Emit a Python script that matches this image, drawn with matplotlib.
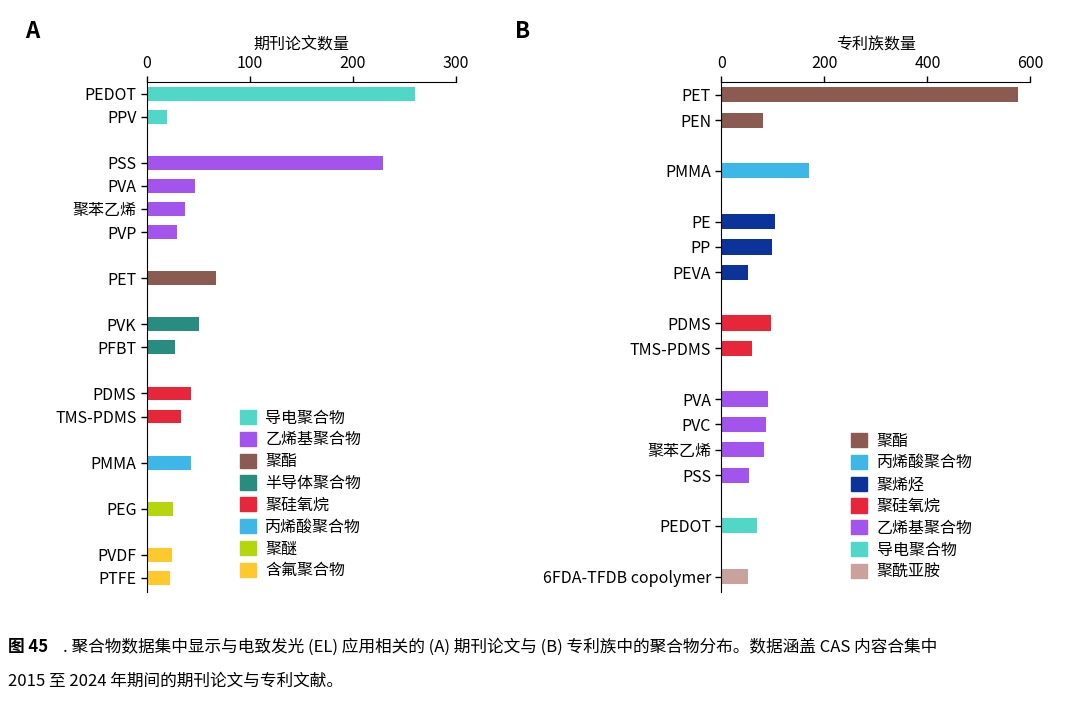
import matplotlib.pyplot as plt
from matplotlib.patches import Patch

plt.rcParams['font.family'] = ['Noto Sans CJK SC', 'DejaVu Sans']

# Panel A: journal articles
a_labels = ['PEDOT', 'PPV', 'PSS', 'PVA', '聚苯乙烯', 'PVP', 'PET', 'PVK', 'PFBT',
            'PDMS', 'TMS-PDMS', 'PMMA', 'PEG', 'PVDF', 'PTFE']
a_values = [260, 20, 229, 47, 37, 29, 67, 51, 27, 43, 33, 43, 25, 24, 22]
a_slots = [0, 1, 3, 4, 5, 6, 8, 10, 11, 13, 14, 16, 18, 20, 21]
a_groups = ['导电聚合物', '导电聚合物', '乙烯基聚合物', '乙烯基聚合物', '乙烯基聚合物', '乙烯基聚合物',
            '聚酯', '半导体聚合物', '半导体聚合物', '聚硅氧烷', '聚硅氧烷', '丙烯酸聚合物',
            '聚醚', '含氟聚合物', '含氟聚合物']
a_legend = ['导电聚合物', '乙烯基聚合物', '聚酯', '半导体聚合物', '聚硅氧烷', '丙烯酸聚合物', '聚醚', '含氟聚合物']

# Panel B: patent families
b_labels = ['PET', 'PEN', 'PMMA', 'PE', 'PP', 'PEVA', 'PDMS', 'TMS-PDMS', 'PVA', 'PVC',
            '聚苯乙烯', 'PSS', 'PEDOT', '6FDA-TFDB copolymer']
b_values = [577, 80, 171, 105, 99, 52, 97, 60, 91, 87, 83, 54, 70, 52]
b_slots = [0, 1, 3, 5, 6, 7, 9, 10, 12, 13, 14, 15, 17, 19]
b_groups = ['聚酯', '聚酯', '丙烯酸聚合物', '聚烯烃', '聚烯烃', '聚烯烃', '聚硅氧烷', '聚硅氧烷',
            '乙烯基聚合物', '乙烯基聚合物', '乙烯基聚合物', '乙烯基聚合物', '导电聚合物', '聚酰亚胺']
b_legend = ['聚酯', '丙烯酸聚合物', '聚烯烃', '聚硅氧烷', '乙烯基聚合物', '导电聚合物', '聚酰亚胺']

colors = {'导电聚合物': '#4fd8c8', '乙烯基聚合物': '#a254ec', '聚酯': '#8b5a50',
          '半导体聚合物': '#288c80', '聚硅氧烷': '#e8263a', '丙烯酸聚合物': '#3db6e8',
          '聚醚': '#b5d50c', '含氟聚合物': '#ffc82c', '聚烯烃': '#0b3399', '聚酰亚胺': '#c9a29c'}

fig = plt.figure(figsize=(10.8, 7.02), dpi=100)


def panel(rect, labels, values, slots, groups, legend, xmax, ticks, title, leg_anchor):
    ax = fig.add_axes(rect)
    ax.barh(slots, values, height=0.6, color=[colors[g] for g in groups])
    ax.set_yticks(slots)
    ax.set_yticklabels(labels, fontsize=11.5)
    ax.set_ylim(max(slots) + 0.6, -0.5)
    ax.set_xlim(0, xmax)
    ax.set_xticks(ticks)
    ax.xaxis.tick_top()
    ax.xaxis.set_label_position('top')
    ax.set_xlabel(title, fontsize=11.5, labelpad=4)
    ax.tick_params(labelsize=11.5, length=4, width=1)
    for s in ['right', 'bottom']:
        ax.spines[s].set_visible(False)
    handles = [Patch(color=colors[g]) for g in legend]
    ax.legend(handles, legend, loc='upper left', bbox_to_anchor=leg_anchor, frameon=False,
              fontsize=11.5, handlelength=1.0, handleheight=1.0, labelspacing=0.3,
              handletextpad=0.6, borderaxespad=0)
    return ax


panel([0.136, 0.157, 0.286, 0.726], a_labels, a_values, a_slots, a_groups, a_legend,
      300, [0, 100, 200, 300], '期刊论文数量', (0.28, 0.37))
panel([0.668, 0.157, 0.286, 0.726], b_labels, b_values, b_slots, b_groups, b_legend,
      600, [0, 200, 400, 600], '专利族数量', (0.40, 0.325))

fig.text(0.023, 0.955, 'A', fontsize=16, fontweight='bold', va='center')
fig.text(0.477, 0.955, 'B', fontsize=16, fontweight='bold', va='center')

fig.text(0.007, 0.078, '图 45', fontsize=12, fontweight='bold', va='center')
fig.text(0.058, 0.078, '. 聚合物数据集中显示与电致发光 (EL) 应用相关的 (A) 期刊论文与 (B) 专利族中的聚合物分布。数据涵盖 CAS 内容合集中',
         fontsize=12, va='center')
fig.text(0.007, 0.030, '2015 至 2024 年期间的期刊论文与专利文献。', fontsize=12, va='center')

fig.savefig('out.png', dpi=100)
